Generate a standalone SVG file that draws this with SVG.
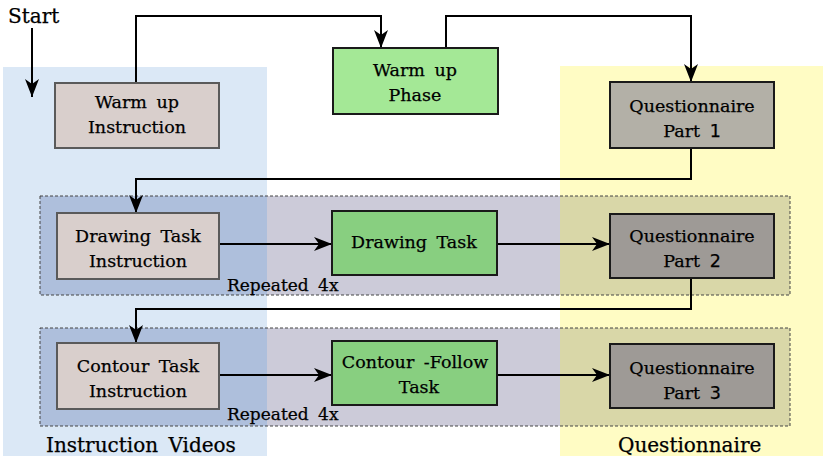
<svg xmlns="http://www.w3.org/2000/svg" width="827" height="463" viewBox="0 0 827 463">
<defs>
<marker id="ah" markerUnits="userSpaceOnUse" markerWidth="19" markerHeight="14" refX="18" refY="7" orient="auto">
<path d="M0,0 L18,7 L0,14 L5,7 Z" fill="#000"/>
</marker>
<style>
text{font-family:"DejaVu Serif","Liberation Serif",serif;font-size:17.5px;fill:#000;stroke:#000;stroke-width:0.25;text-anchor:middle;word-spacing:4px}
.big{font-size:20px;text-anchor:start}
.rep{font-size:17px;text-anchor:start}
.num{font-family:"DejaVu Sans","Liberation Sans",sans-serif}
.inst{fill:#d9cfcc;stroke:#5a5a5a;stroke-width:2}
.task{fill:#88cf80;stroke:#1a1a1a;stroke-width:2}
.phase{fill:#a4e896;stroke:#1a1a1a;stroke-width:2}
.q1{fill:#b3b0a7;stroke:#1a1a1a;stroke-width:2}
.q{fill:#9e9a96;stroke:#1a1a1a;stroke-width:2}
.band{fill:none;stroke:#444;stroke-width:1;stroke-dasharray:3,2}
.c{fill:none;stroke:#000;stroke-width:2}
</style>
</defs>
<rect width="827" height="463" fill="#fff"/>
<g id="panels">
<rect x="3" y="67" width="264" height="389" fill="#dbe8f6"/>
<rect x="560" y="66" width="263" height="390" fill="#fffcc4"/>
<rect x="40" y="196" width="227" height="99" fill="#aebfdc"/>
<rect x="267" y="196" width="293" height="99" fill="#cccbd9"/>
<rect x="560" y="196" width="230" height="99" fill="#d9d7a8"/>
<rect x="40" y="196" width="750" height="99" class="band"/>
<rect x="40" y="328" width="227" height="98" fill="#aebfdc"/>
<rect x="267" y="328" width="293" height="98" fill="#cccbd9"/>
<rect x="560" y="328" width="230" height="98" fill="#d9d7a8"/>
<rect x="40" y="328" width="750" height="98" class="band"/>
<text class="big" x="8" y="23">Start</text>
<text class="big" x="46" y="452">Instruction Videos</text>
<text class="big" x="618" y="452">Questionnaire</text>
<text class="rep" x="227" y="291">Repeated 4x</text>
<text class="rep" x="227" y="420">Repeated 4x</text>
</g>
<g id="connectors">
<path class="c" d="M32,28 V97" marker-end="url(#ah)"/>
<path class="c" d="M136,83 V16 H381 V48" marker-end="url(#ah)"/>
<path class="c" d="M446,48 V16 H691 V82" marker-end="url(#ah)"/>
<path class="c" d="M691,148 V179 H136 V213" marker-end="url(#ah)"/>
<path class="c" d="M219,244 H332" marker-end="url(#ah)"/>
<path class="c" d="M497,244 H610" marker-end="url(#ah)"/>
<path class="c" d="M691,278 V309 H136 V343" marker-end="url(#ah)"/>
<path class="c" d="M219,375 H332" marker-end="url(#ah)"/>
<path class="c" d="M497,375 H610" marker-end="url(#ah)"/>
</g>
<g id="warmup-instruction">
<rect class="inst" x="55" y="83" width="164" height="65"/>
<text x="137" y="108">Warm up</text>
<text x="137" y="133">Instruction</text>
</g>
<g id="warmup-phase">
<rect class="phase" x="333" y="48" width="165" height="66"/>
<text x="415" y="76">Warm up</text>
<text x="415" y="101">Phase</text>
</g>
<g id="questionnaire-1">
<rect class="q1" x="610" y="82" width="164" height="66"/>
<text x="692" y="112">Questionnaire</text>
<text x="692" y="137">Part <tspan class="num">1</tspan></text>
</g>
<g id="drawing-instruction">
<rect class="inst" x="57" y="213" width="162" height="66"/>
<text x="138" y="242">Drawing Task</text>
<text x="138" y="267">Instruction</text>
</g>
<g id="drawing-task">
<rect class="task" x="332" y="211" width="165" height="64"/>
<text x="414" y="248">Drawing Task</text>
</g>
<g id="questionnaire-2">
<rect class="q" x="610" y="214" width="164" height="64"/>
<text x="692" y="242">Questionnaire</text>
<text x="692" y="267">Part <tspan class="num">2</tspan></text>
</g>
<g id="contour-instruction">
<rect class="inst" x="57" y="343" width="162" height="66"/>
<text x="138" y="372">Contour Task</text>
<text x="138" y="397">Instruction</text>
</g>
<g id="contour-task">
<rect class="task" x="332" y="341" width="165" height="64"/>
<text x="415" y="368">Contour -Follow</text>
<text x="419" y="393">Task</text>
</g>
<g id="questionnaire-3">
<rect class="q" x="610" y="344" width="164" height="64"/>
<text x="692" y="374">Questionnaire</text>
<text x="692" y="399">Part <tspan class="num">3</tspan></text>
</g>
</svg>
